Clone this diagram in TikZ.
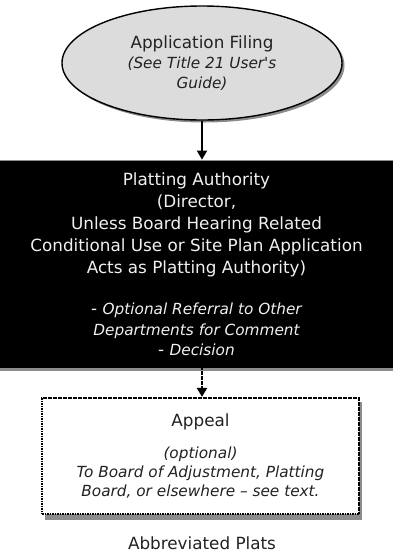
\documentclass[tikz,border=0pt]{standalone}
\usepackage{fontspec}
\setmainfont{DejaVu Sans}[Ligatures=TeXOff]
\usetikzlibrary{shapes.geometric,arrows.meta}
\definecolor{inkgray}{HTML}{222222}
\definecolor{ovalfill}{HTML}{DCDCDC}
\definecolor{shadowgray}{HTML}{8C8C8C}
% italic lines are set a little smaller than the upright ones
\newcommand\itl[1]{{\fontsize{15.3}{20}\selectfont\itshape #1}}
\tikzset{
  txt/.style={font=\fontsize{16.8}{20}\selectfont, text=inkgray, align=center},
  ovalbox/.style={ellipse, draw=black, line width=1.4pt, fill=ovalfill,
    minimum width=280pt, minimum height=114pt, inner sep=0pt, txt},
  authbox/.style={rectangle, fill=black, draw=shadowgray, line width=0.8pt,
    minimum width=395pt, minimum height=208pt, inner sep=0pt, txt,
    text=white!94!black, font=\fontsize{16.8}{22}\selectfont},
  appealbox/.style={rectangle, draw=black, line width=2.2pt, dash pattern=on 1.6pt off 0.9pt,
    fill=white, minimum width=317pt, minimum height=116pt, inner sep=0pt, txt,
    font=\fontsize{16.8}{19}\selectfont},
  flow/.style={line width=1.8pt, -{Triangle[length=9pt,width=10pt]}},
  dotflow/.style={flow, dash pattern=on 1.6pt off 0.9pt, line width=2.4pt}
}
\begin{document}
\begin{tikzpicture}[x=1pt,y=-1pt]
  \useasboundingbox (0,0) rectangle (393,558);
  % drop shadows
  \fill[shadowgray] (204.5,65.5) ellipse (140pt and 57pt);
  \fill[shadowgray] (0,360) rectangle (393,371);
  \fill[shadowgray] (45,402) rectangle (362,520);
  % boxes
  \node[ovalbox] (filing) at (202,63)
    {Application Filing\\ \itl{(See Title 21 User's}\\ \itl{Guide)}};
  \node[authbox] (authority) at (196.5,264)
    {Platting Authority\\ (Director,\\ Unless Board Hearing Related\\
     Conditional Use or Site Plan Application\\ Acts as Platting Authority)\\[19pt]
     - \itl{Optional Referral to Other}\\[-1pt] \itl{Departments for Comment}\\[-2pt]
     - \itl{Decision}};
  \node[appealbox] (appeal) at (200.5,456)
    {Appeal\\[13pt] \itl{(optional)}\\ \itl{To Board of Adjustment, Platting}\\
     \itl{Board, or elsewhere – see text.}};
  \node[txt] (caption) at (202,543) {Abbreviated Plats};
  % connectors
  \draw[flow] (filing.south) -- (filing.south |- authority.north);
  \draw[dotflow] (authority.south -| filing.south) -- (filing.south |- appeal.north);
\end{tikzpicture}
\end{document}
